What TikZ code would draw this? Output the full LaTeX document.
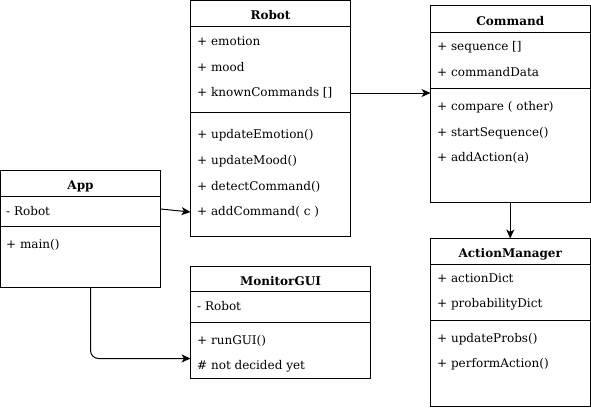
\documentclass[tikz,border=0pt]{standalone}
\usepackage{fontspec}
\setmainfont{DejaVu Serif}
\usetikzlibrary{arrows.meta}
\begin{document}
\begin{tikzpicture}[x=1pt,y=-1pt,
  cbox/.style={draw, line width=1pt, rectangle, inner sep=0pt, outer sep=0pt, anchor=north west},
  sep/.style={line width=1pt},
  member/.style={anchor=west, inner sep=0pt, font=\fontsize{12}{14}\selectfont},
  ctitle/.style={inner sep=0pt, font=\fontsize{12}{14}\selectfont\bfseries},
  arr/.style={line width=1pt, -{Stealth[length=9pt,width=8pt,inset=2.5pt]}}]
\useasboundingbox (0,0) rectangle (591,407);

% App
\node[cbox, minimum width=160pt, minimum height=117pt] (app) at (0.5,170.5) {};
\draw[sep] (app.west |- 0,196.5) -- (app.east |- 0,196.5);
\draw[sep] (app.west |- 0,226.5) -- (app.east |- 0,226.5);
\node[ctitle] (app-t) at (80.5,186) {App};
\node[member] (app-a1) at (6,211) {- Robot};
\node[member] (app-m1) at (6,245) {+ main()};

% Robot
\node[cbox, minimum width=160pt, minimum height=236pt] (rob) at (190.5,0.5) {};
\draw[sep] (rob.west |- 0,26.5) -- (rob.east |- 0,26.5);
\draw[sep] (rob.west |- 0,112.5) -- (rob.east |- 0,112.5);
\node[ctitle] (rob-t) at (270.5,15) {Robot};
\node[member] (rob-a1) at (197,41) {+ emotion};
\node[member] (rob-a2) at (197,67) {+ mood};
\node[member] (rob-a3) at (197,93) {+ knownCommands []};
\node[member] (rob-m1) at (197,135) {+ updateEmotion()};
\node[member] (rob-m2) at (197,161) {+ updateMood()};
\node[member] (rob-m3) at (197,187) {+ detectCommand()};
\node[member] (rob-m4) at (197,212) {+ addCommand( c )};

% Command
\node[cbox, minimum width=159.5pt, minimum height=197pt] (cmd) at (430.5,5.5) {};
\draw[sep] (cmd.west |- 0,32) -- (cmd.east |- 0,32);
\draw[sep] (cmd.west |- 0,88) -- (cmd.east |- 0,88);
\node[ctitle] (cmd-t) at (510.25,21) {Command};
\node[member] (cmd-a1) at (437,47) {+ sequence []};
\node[member] (cmd-a2) at (437,72) {+ commandData};
\node[member] (cmd-m1) at (437,107) {+ compare ( other)};
\node[member] (cmd-m2) at (437,133) {+ startSequence()};
\node[member] (cmd-m3) at (437,158) {+ addAction(a)};

% ActionManager
\node[cbox, minimum width=159.5pt, minimum height=168pt] (am) at (430.5,238.5) {};
\draw[sep] (am.west |- 0,264.5) -- (am.east |- 0,264.5);
\draw[sep] (am.west |- 0,320.5) -- (am.east |- 0,320.5);
\node[ctitle] (am-t) at (510.25,254) {ActionManager};
\node[member] (am-a1) at (437,278) {+ actionDict};
\node[member] (am-a2) at (437,304) {+ probabilityDict};
\node[member] (am-m1) at (437,339) {+ updateProbs()};
\node[member] (am-m2) at (437,364) {+ performAction()};

% MonitorGUI
\node[cbox, minimum width=180pt, minimum height=112pt] (mon) at (190.5,266.5) {};
\draw[sep] (mon.west |- 0,291.5) -- (mon.east |- 0,291.5);
\draw[sep] (mon.west |- 0,322) -- (mon.east |- 0,322);
\node[ctitle] (mon-t) at (280.5,281) {MonitorGUI};
\node[member] (mon-a1) at (197,306.5) {- Robot};
\node[member] (mon-m1) at (197,340.5) {+ runGUI()};
\node[member] (mon-m2) at (197,366) {\# not decided yet};

% Connectors
\draw[arr] (app.east |- 0,209) -- (rob.west |- rob-m4);
\draw[arr] (rob.east |- rob-a3) -- (cmd.west |- rob-a3);
\draw[arr] (cmd.south) -- (am.north);
\draw[arr, rounded corners=8pt] ([xshift=10pt]app.south) |- ([yshift=20pt]mon.south west);
\end{tikzpicture}
\end{document}
